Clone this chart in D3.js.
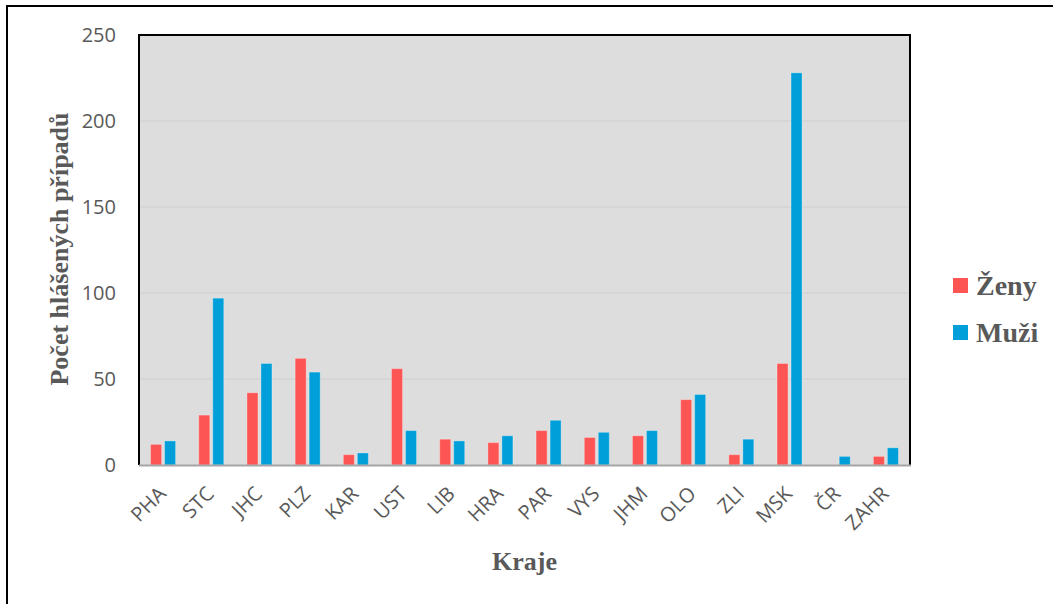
<!DOCTYPE html>
<html><head><meta charset="utf-8">
<script src="https://cdn.jsdelivr.net/npm/d3@7"></script>
<style>
html,body{margin:0;padding:0;background:#fff;}
svg{display:block;}
</style>
</head><body>
<svg id="chart" width="1053" height="604"></svg>
<script>
const categories = ["PHA","STC","JHC","PLZ","KAR","UST","LIB","HRA","PAR","VYS","JHM","OLO","ZLI","MSK","ČR","ZAHR"];
const zeny = [12,29,42,62,6,56,15,13,20,16,17,38,6,59,0,5];
const muzi = [14,97,59,54,7,20,14,17,26,19,20,41,15,228,5,10];
const seriesNames = ["Ženy","Muži"];
const seriesColors = ["#fd5454","#009fd9"];
const yTicks = [0,50,100,150,200,250];

const svg = d3.select("#chart");
const L = 139, R = 910, T = 35, B = 465;

// outer frame
svg.append("rect").attr("x",7).attr("y",6).attr("width",1100).attr("height",700)
  .attr("fill","#fff").attr("stroke","#000").attr("stroke-width",2);

const x0 = d3.scaleBand().domain(categories).range([L,R]).padding(0);
const x1 = d3.scaleBand().domain(seriesNames).range([-12.5,12.5]).paddingInner(0.214);
const y = d3.scaleLinear().domain([0,250]).range([B,T]);

// plot background
svg.append("rect").attr("x",L).attr("y",T).attr("width",R-L).attr("height",B-T)
  .attr("fill","#dddddd");

// gridlines
svg.append("g").selectAll("line").data(yTicks.filter(d=>d>0 && d<250)).join("line")
  .attr("x1",L).attr("x2",R).attr("y1",d=>y(d)).attr("y2",d=>y(d))
  .attr("stroke","#d3d3d3").attr("stroke-width",1.5);

// bars
const data = categories.map((c,i)=>({cat:c, vals:[zeny[i],muzi[i]]}));
const g = svg.append("g");
data.forEach(d=>{
  seriesNames.forEach((s,j)=>{
    const v = d.vals[j];
    if (v<=0) return;
    g.append("rect")
      .attr("x", x0(d.cat)+x0.bandwidth()/2 + x1(s))
      .attr("y", y(v))
      .attr("width", x1.bandwidth())
      .attr("height", y(0)-y(v))
      .attr("fill", seriesColors[j])
      .attr("stroke","rgba(255,255,255,0.3)")
      .attr("stroke-width",1);
  });
});

// plot border
svg.append("path").attr("d",`M${L},${B} L${L},${T} L${R},${T} L${R},${B}`)
  .attr("fill","none").attr("stroke","#000").attr("stroke-width",2);
// x axis line
svg.append("line").attr("x1",L).attr("x2",R+1).attr("y1",B+0.5).attr("y2",B+0.5)
  .attr("stroke","#a6a6a6").attr("stroke-width",2);

// y tick labels
const yAxis = d3.axisLeft(y).tickValues(yTicks).tickSize(0).tickPadding(23);
const ya = svg.append("g").attr("transform",`translate(${L},0)`).call(yAxis);
ya.select(".domain").remove();
ya.selectAll("text").attr("font-family","'Open Sans', sans-serif").attr("font-size",20)
  .attr("fill","#595959");

// x tick labels
const xAxis = d3.axisBottom(x0).tickSize(0).tickPadding(0);
const xa = svg.append("g").attr("transform",`translate(0,${B})`).call(xAxis);
xa.select(".domain").remove();
xa.selectAll("text")
  .attr("font-family","'Open Sans', sans-serif").attr("font-size",20)
  .attr("fill","#595959")
  .attr("text-anchor","end")
  .attr("dy",null)
  .attr("y",null)
  .attr("transform","translate(4,30) rotate(-45)");

// axis titles
svg.append("text").attr("x",(L+R)/2).attr("y",570).attr("text-anchor","middle")
  .attr("font-family","'Liberation Serif', 'Times New Roman', serif").attr("font-weight","bold")
  .attr("font-size",26).attr("fill","#595959").text("Kraje");
svg.append("text").attr("transform","translate(68,249) rotate(-90)").attr("text-anchor","middle")
  .attr("font-family","'Liberation Serif', 'Times New Roman', serif").attr("font-weight","bold")
  .attr("font-size",26).attr("fill","#595959").text("Počet hlášených případů");

// legend
const lg = svg.append("g");
seriesNames.forEach((s,j)=>{
  const by = 278 + j*47;
  lg.append("rect").attr("x",953).attr("y",by).attr("width",15).attr("height",15)
    .attr("fill",seriesColors[j]);
  lg.append("text").attr("x",976).attr("y",by+17)
    .attr("font-family","'Liberation Serif', 'Times New Roman', serif").attr("font-weight","bold")
    .attr("font-size",28).attr("fill","#595959").text(s);
});
</script>
</body></html>
